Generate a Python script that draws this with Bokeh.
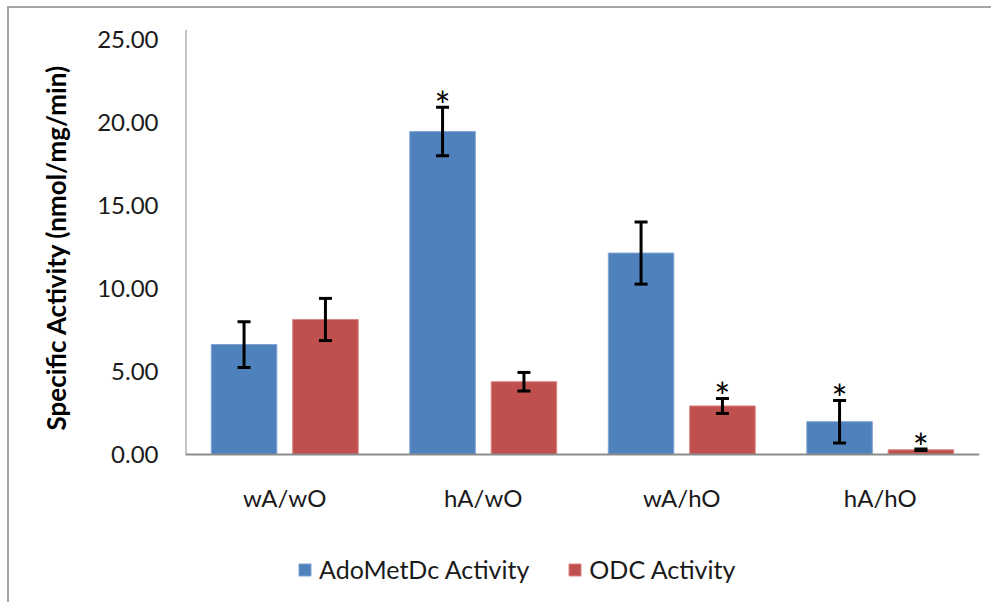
from bokeh.plotting import figure
from bokeh.models import (ColumnDataSource, FactorRange, FixedTicker, NumeralTickFormatter,
                          Whisker, TeeHead, Legend, LegendItem, Range1d, Title)
from bokeh.transform import dodge
from bokeh.core.properties import value
from bokeh.embed import file_html
from bokeh.resources import INLINE

categories = ["wA/wO", "hA/wO", "wA/hO", "hA/hO"]
adomet = [6.62, 19.45, 12.13, 1.97]
adomet_err = [1.38, 1.46, 1.87, 1.28]
odc = [8.13, 4.38, 2.92, 0.28]
odc_err = [1.27, 0.56, 0.45, 0.04]
adomet_sig = ["", "*", "", "*"]
odc_sig = ["", "", "*", "*"]
y_ticks = [0, 5, 10, 15, 20, 25]
Y_TOP = 25.6

BLUE = "#4F81BD"
RED = "#C0504D"
AXIS = "#8C8C8C"
FONT = "Lato"

src = ColumnDataSource(dict(
    cat=categories,
    ado=adomet,
    ado_up=[v + e for v, e in zip(adomet, adomet_err)],
    ado_lo=[v - e for v, e in zip(adomet, adomet_err)],
    ado_sig=adomet_sig,
    odc=odc,
    odc_up=[v + e for v, e in zip(odc, odc_err)],
    odc_lo=[v - e for v, e in zip(odc, odc_err)],
    odc_sig=odc_sig,
))

p = figure(width=984, height=596, x_range=FactorRange(factors=categories, range_padding=0),
           y_range=Range1d(-8.8, Y_TOP), output_backend="svg", toolbar_location=None,
           min_border_left=176, min_border_right=14, min_border_top=21, min_border_bottom=4)
p.styles = {"margin-left": "7px", "margin-top": "6px",
            "border-top": "2px solid #A6A6A6", "border-left": "2px solid #A6A6A6"}

p.outline_line_color = None
p.xgrid.visible = False
p.ygrid.visible = False

OFF = 0.205
W = 0.33
r_ado = p.vbar(x=dodge("cat", -OFF, range=p.x_range), top="ado", width=W, source=src,
               fill_color=BLUE, line_color="#7FA3D3", line_width=1)
r_odc = p.vbar(x=dodge("cat", OFF, range=p.x_range), top="odc", width=W, source=src,
               fill_color=RED, line_color="#D98683", line_width=1)

for base, up, lo in [(dodge("cat", -OFF, range=p.x_range), "ado_up", "ado_lo"),
                     (dodge("cat", OFF, range=p.x_range), "odc_up", "odc_lo")]:
    w = Whisker(source=src, base=base, upper=up, lower=lo, line_color="black", line_width=3,
                level="annotation",
                upper_head=TeeHead(size=13, line_color="black", line_width=3),
                lower_head=TeeHead(size=13, line_color="black", line_width=3))
    p.add_layout(w)

p.text(x=dodge("cat", -OFF, range=p.x_range), y="ado_up", text="ado_sig", source=src,
       text_align="center", text_baseline="middle", y_offset=-2, text_font=value(FONT),
       text_font_size="38px", text_color="black")
p.text(x=dodge("cat", OFF, range=p.x_range), y="odc_up", text="odc_sig", source=src,
       text_align="center", text_baseline="middle", y_offset=-2, text_font=value(FONT),
       text_font_size="38px", text_color="black")

# value axis line (only over the value range)
p.segment(x0=[0], y0=[0], x1=[0], y1=[Y_TOP], line_color=AXIS, line_width=2)

# axes
p.yaxis.ticker = FixedTicker(ticks=y_ticks)
p.yaxis.formatter = NumeralTickFormatter(format="0.00")
p.xaxis.fixed_location = 0
for ax in (p.xaxis, p.yaxis):
    ax.axis_line_color = AXIS
    ax.axis_line_width = 2
    ax.major_tick_line_color = None
    ax.minor_tick_line_color = None
    ax.major_label_text_font = FONT
    ax.major_label_text_font_size = "24px"
    ax.major_label_text_color = "#1a1a1a"
p.yaxis.axis_line_color = None
p.yaxis.major_label_standoff = 21
p.xaxis.major_label_standoff = 23

ytitle = Title(text="Specific Activity (nmol/mg/min)", align="left", offset=170,
               text_font=FONT, text_font_style="bold", text_font_size="26px",
               text_color="black", standoff=44, vertical_align="middle")
p.add_layout(ytitle, "left")

legend = Legend(items=[LegendItem(label="AdoMetDc Activity", renderers=[r_ado]),
                       LegendItem(label="ODC Activity", renderers=[r_odc])],
                orientation="horizontal", location=(112, 16),
                label_text_font=FONT, label_text_font_size="25px", label_text_color="#1a1a1a",
                glyph_width=15, glyph_height=15, label_standoff=7, spacing=38,
                padding=0, margin=0, border_line_color=None, background_fill_alpha=0)
p.add_layout(legend)

open("out.html", "w").write(file_html(p, INLINE))
